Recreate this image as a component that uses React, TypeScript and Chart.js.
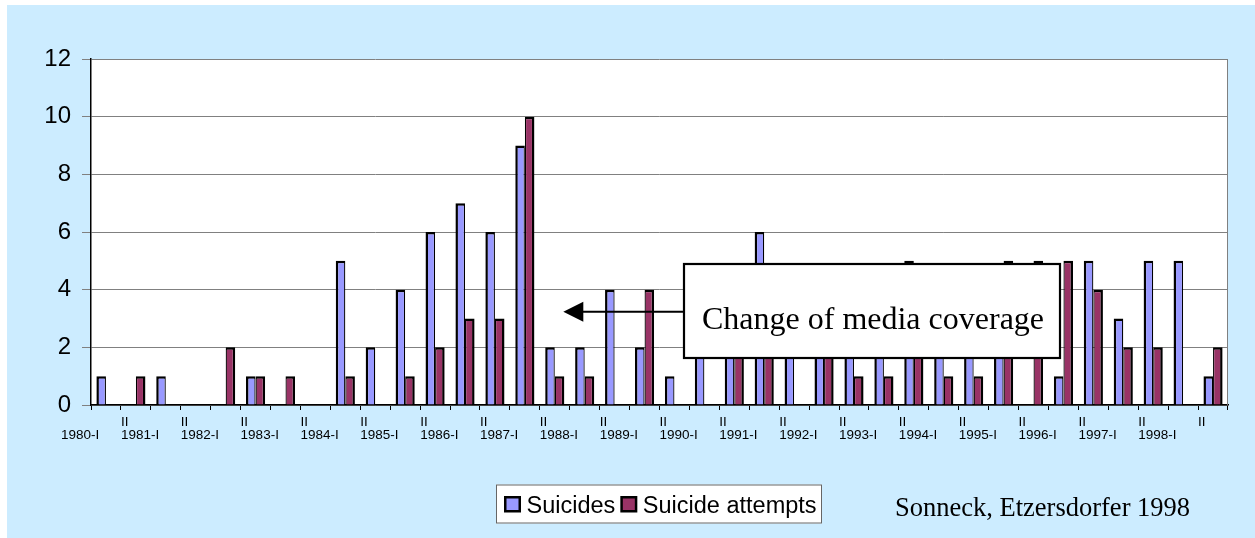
import React, { useEffect, useRef } from "react";
import { Chart, registerables } from "chart.js";

Chart.register(...registerables);

// ---- data ----
const categories = [
  "1980-I", "II", "1981-I", "II", "1982-I", "II", "1983-I", "II", "1984-I", "II",
  "1985-I", "II", "1986-I", "II", "1987-I", "II", "1988-I", "II", "1989-I", "II",
  "1990-I", "II", "1991-I", "II", "1992-I", "II", "1993-I", "II", "1994-I", "II",
  "1995-I", "II", "1996-I", "II", "1997-I", "II", "1998-I", "II",
];
const suicides = [
  1, 0, 1, 0, 0, 1, 0, 0, 5, 2,
  4, 6, 7, 6, 9, 2, 2, 4, 2, 1,
  3, 4, 6, 2, 3, 3, 2, 5, 4, 2,
  4, 0, 1, 5, 3, 5, 5, 1,
];
const attempts = [
  0, 1, 0, 0, 2, 1, 1, 0, 1, 0,
  1, 2, 3, 3, 10, 1, 1, 0, 4, 0,
  0, 2, 3, 0, 3, 1, 1, 4, 1, 1,
  5, 5, 5, 4, 2, 2, 0, 2,
];
const yTicks = [0, 2, 4, 6, 8, 10, 12];
const seriesNames = ["Suicides", "Suicide attempts"];
const seriesColors = ["#9999FF", "#993366"];
const annotationText = "Change of media coverage";
const sourceText = "Sonneck, Etzersdorfer 1998";

// ---- styles ----
const SANS = '"Liberation Sans", Arial, sans-serif';
const SERIF = '"Liberation Serif", "Times New Roman", serif';
const CW = 1248;
const CH = 533;

const decor = {
  id: "decor",
  beforeDraw(chart: any) {
    const { ctx, chartArea: a } = chart;
    ctx.save();
    ctx.fillStyle = "#ffffff";
    ctx.fillRect(a.left, a.top, a.right - a.left, a.bottom - a.top);
    ctx.restore();
  },
  beforeDatasetsDraw(chart: any) {
    const { ctx, chartArea: a } = chart;
    ctx.save();
    ctx.strokeStyle = "#808080";
    ctx.lineWidth = 1;
    ctx.beginPath();
    ctx.moveTo(a.right - 0.5, a.top);
    ctx.lineTo(a.right - 0.5, a.bottom);
    ctx.stroke();
    ctx.restore();
  },
  afterDatasetsDraw(chart: any) {
    const { ctx } = chart;
    ctx.save();
    // annotation box
    ctx.fillStyle = "#ffffff";
    ctx.fillRect(677, 259, 376, 94);
    ctx.strokeStyle = "#000000";
    ctx.lineWidth = 2.2;
    ctx.strokeRect(677, 259, 376, 94);
    ctx.fillStyle = "#000000";
    ctx.font = `32px ${SERIF}`;
    ctx.textAlign = "center";
    ctx.textBaseline = "alphabetic";
    ctx.fillText(annotationText, 866, 324);
    // arrow
    ctx.beginPath();
    ctx.lineWidth = 2;
    ctx.moveTo(676, 306.7);
    ctx.lineTo(574, 306.7);
    ctx.stroke();
    ctx.beginPath();
    ctx.moveTo(556.3, 306.7);
    ctx.lineTo(576.3, 296.7);
    ctx.lineTo(576.3, 316.7);
    ctx.closePath();
    ctx.fill();
    ctx.restore();
  },
  afterDraw(chart: any) {
    const { ctx, chartArea: a } = chart;
    const xs = chart.scales.x;
    const cw = xs.getPixelForValue(1) - xs.getPixelForValue(0);
    ctx.save();
    // category labels
    ctx.fillStyle = "#000000";
    ctx.font = `13.5px ${SANS}`;
    ctx.textAlign = "left";
    ctx.textBaseline = "alphabetic";
    categories.forEach((lab, i) => {
      const c = xs.getPixelForValue(i);
      if (lab === "II") {
        ctx.fillText(lab, c - cw / 2, a.bottom + 20.7);
      } else {
        ctx.fillText(lab, c - cw * 1.5, a.bottom + 34);
      }
    });
    // legend
    const lx = 489, ly = 479.5, lw = 326, lh = 39;
    ctx.fillStyle = "#ffffff";
    ctx.fillRect(lx, ly, lw, lh);
    ctx.strokeStyle = "#666666";
    ctx.lineWidth = 1;
    ctx.strokeRect(lx + 0.5, ly + 0.5, lw - 1, lh - 1);
    ctx.font = `23.5px ${SANS}`;
    let x = 497;
    chart.data.datasets.forEach((ds: any, i: number) => {
      ctx.fillStyle = "#000000";
      ctx.fillRect(x, 491, 17, 16.5);
      ctx.fillStyle = seriesColors[i];
      ctx.fillRect(x + 2.5, 493.5, 12, 11.5);
      ctx.fillStyle = "#000000";
      const tx = x + 22.5;
      ctx.fillText(ds.label, tx, 507.5);
      x = tx + ctx.measureText(ds.label).width + 5;
    });
    // source
    ctx.font = `26.5px ${SERIF}`;
    ctx.fillStyle = "#000000";
    ctx.fillText(sourceText, 888, 511);
    ctx.restore();
  },
};

export default function App() {
  const ref = useRef<HTMLCanvasElement>(null);
  useEffect(() => {
    document.body.style.margin = "0";
    const canvas = ref.current!;
    const chart = new Chart(canvas, {
      type: "bar",
      data: {
        labels: categories,
        datasets: [
          {
            label: seriesNames[0],
            data: suicides,
            backgroundColor: seriesColors[0],
            borderColor: "#000000",
            borderWidth: { top: 2.5, left: 2.5, right: 1.25, bottom: 0 } as any,
            borderSkipped: "start",
          },
          {
            label: seriesNames[1],
            data: attempts,
            backgroundColor: seriesColors[1],
            borderColor: "#000000",
            borderWidth: { top: 2.5, left: 1.25, right: 2.5, bottom: 0 } as any,
            borderSkipped: "start",
          },
        ],
      },
      options: {
        responsive: false,
        animation: false,
        devicePixelRatio: 1,
        layout: { padding: { top: 54, right: 27, left: 0, bottom: 0 } },
        datasets: { bar: { categoryPercentage: 0.64, barPercentage: 1 } },
        plugins: {
          legend: { display: false },
          tooltip: { enabled: false },
          title: { display: false },
        },
        scales: {
          x: {
            type: "category",
            offset: true,
            grid: {
              display: true,
              offset: true,
              drawOnChartArea: false,
              drawTicks: true,
              tickLength: 5,
              color: "#000000",
              lineWidth: 1,
            },
            border: { display: true, color: "#000000", width: 1.5 },
            ticks: { display: false, autoSkip: false },
            afterFit: (s: any) => {
              s.height = 133;
            },
          },
          y: {
            min: 0,
            max: 12,
            afterBuildTicks: (s: any) => {
              s.ticks = yTicks.map((v) => ({ value: v }));
            },
            ticks: {
              font: { family: SANS, size: 24 },
              color: "#000000",
              padding: 11,
            },
            grid: {
              color: "#808080",
              lineWidth: 1,
              tickLength: 9,
              tickColor: "#808080",
            },
            border: { display: true, color: "#000000", width: 1.5 },
            afterFit: (s: any) => {
              s.width = 84;
            },
          },
        },
      },
      plugins: [decor],
    });
    return () => chart.destroy();
  }, []);

  return (
    <div style={{ position: "fixed", left: 0, top: 0, width: 1255, height: 538, background: "#ffffff" }}>
      <div style={{ position: "absolute", left: 7, top: 5, width: CW, height: CH, background: "#CCECFF" }}>
        <canvas ref={ref} width={CW} height={CH} style={{ display: "block" }} />
      </div>
    </div>
  );
}
